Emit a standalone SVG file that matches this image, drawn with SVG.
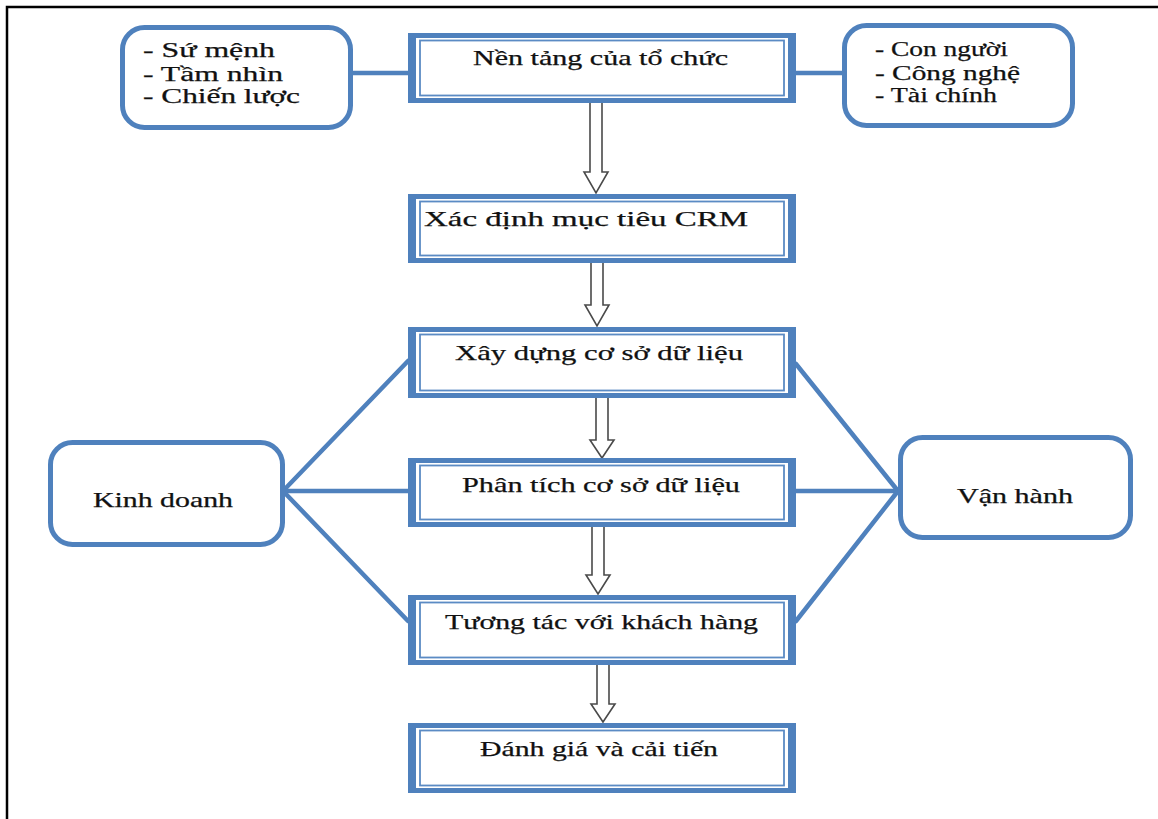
<svg xmlns="http://www.w3.org/2000/svg" width="1158" height="819" viewBox="0 0 1158 819">
<style>
.frame{stroke:#000;stroke-width:2.5;fill:none}
.band{fill:#4F81BD}
.gap{fill:#fff}
.box-inner{fill:none;stroke:#5B8BC4;stroke-width:1.8}
.rbox{fill:#fff;stroke:#4F81BD;stroke-width:5}
.conn{stroke:#4F81BD;stroke-width:4.5;fill:none;stroke-linecap:round}
.arrow{fill:#fff;stroke:#4a4a4a;stroke-width:1.6;stroke-linejoin:miter}
text{font-family:"Liberation Serif","Times New Roman",serif;fill:#111;stroke:#111;stroke-width:0.25}
.t{font-size:21px}
.s{font-size:20px}
</style>
<rect width="1158" height="819" fill="#fff"/>
<path class="frame" d="M7,819 V7 H1158"/>

<g id="connectors">
<line class="conn" x1="353" y1="73" x2="408" y2="73"/>
<line class="conn" x1="796" y1="73" x2="842" y2="73"/>
<line class="conn" x1="283" y1="491" x2="408" y2="361"/>
<line class="conn" x1="283" y1="491" x2="408" y2="491"/>
<line class="conn" x1="283" y1="491" x2="408" y2="621"/>
<line class="conn" x1="898" y1="491" x2="796" y2="364"/>
<line class="conn" x1="796" y1="491" x2="898" y2="491"/>
<line class="conn" x1="898" y1="491" x2="796" y2="621"/>
<path class="arrow" d="M590,100 H602 V172 H608 L596,193 L584,172 H590 Z"/>
<path class="arrow" d="M591,260 H603 V305 H609 L597,326 L585,305 H591 Z"/>
<path class="arrow" d="M596,395 H608 V440 H614 L602,458 L590,440 H596 Z"/>
<path class="arrow" d="M592,524 H604 V575 H610 L598,594 L586,575 H592 Z"/>
<path class="arrow" d="M597,662 H609 V704 H615 L603,722 L591,704 H597 Z"/>
</g>

<g id="node-su-menh">
<rect class="rbox" x="122.5" y="27.5" width="228" height="100" rx="22"/>
<text class="s" x="143" y="57" textLength="132" lengthAdjust="spacingAndGlyphs">- Sứ mệnh</text>
<text class="s" x="143" y="81" textLength="140" lengthAdjust="spacingAndGlyphs">- Tầm nhìn</text>
<text class="s" x="143" y="103" textLength="157" lengthAdjust="spacingAndGlyphs">- Chiến lược</text>
</g>

<g id="node-con-nguoi">
<rect class="rbox" x="844.5" y="25.5" width="228" height="100" rx="22"/>
<text class="s" x="875" y="56" textLength="133" lengthAdjust="spacingAndGlyphs">- Con người</text>
<text class="s" x="875" y="80" textLength="145" lengthAdjust="spacingAndGlyphs">- Công nghệ</text>
<text class="s" x="875" y="102" textLength="122" lengthAdjust="spacingAndGlyphs">- Tài chính</text>
</g>

<g id="node-nen-tang">
<rect class="band" x="408" y="33" width="388" height="70"/>
<rect class="gap" x="416" y="38" width="372" height="60"/>
<rect class="box-inner" x="420" y="40.5" width="364" height="55"/>
<text class="t" x="473" y="65" textLength="255" lengthAdjust="spacingAndGlyphs">Nền tảng của tổ chức</text>
</g>

<g id="node-xac-dinh">
<rect class="band" x="408" y="194" width="388" height="69"/>
<rect class="gap" x="416" y="199" width="372" height="59"/>
<rect class="box-inner" x="420" y="201.5" width="364" height="54"/>
<text class="t" x="424" y="226" textLength="324" lengthAdjust="spacingAndGlyphs">Xác định mục tiêu CRM</text>
</g>

<g id="node-xay-dung">
<rect class="band" x="408" y="327" width="388" height="71"/>
<rect class="gap" x="416" y="332" width="372" height="61"/>
<rect class="box-inner" x="420" y="334.5" width="364" height="56"/>
<text class="t" x="455" y="360" textLength="288" lengthAdjust="spacingAndGlyphs">Xây dựng cơ sở dữ liệu</text>
</g>

<g id="node-phan-tich">
<rect class="band" x="408" y="458" width="388" height="69"/>
<rect class="gap" x="416" y="463" width="372" height="59"/>
<rect class="box-inner" x="420" y="465.5" width="364" height="54"/>
<text class="t" x="462" y="492" textLength="278" lengthAdjust="spacingAndGlyphs">Phân tích cơ sở dữ liệu</text>
</g>

<g id="node-tuong-tac">
<rect class="band" x="408" y="595" width="388" height="70"/>
<rect class="gap" x="416" y="600" width="372" height="60"/>
<rect class="box-inner" x="420" y="602.5" width="364" height="55"/>
<text class="t" x="445" y="629" textLength="313" lengthAdjust="spacingAndGlyphs">Tương tác với khách hàng</text>
</g>

<g id="node-danh-gia">
<rect class="band" x="408" y="723" width="388" height="70"/>
<rect class="gap" x="416" y="728" width="372" height="60"/>
<rect class="box-inner" x="420" y="730.5" width="364" height="55"/>
<text class="t" x="480" y="756" textLength="238" lengthAdjust="spacingAndGlyphs">Đánh giá và cải tiến</text>
</g>

<g id="node-kinh-doanh">
<rect class="rbox" x="50.5" y="442.5" width="232" height="102" rx="22"/>
<text class="t" x="93" y="507" textLength="140" lengthAdjust="spacingAndGlyphs">Kinh doanh</text>
</g>

<g id="node-van-hanh">
<rect class="rbox" x="900.5" y="437.5" width="230" height="100" rx="22"/>
<text class="t" x="957" y="503" textLength="116" lengthAdjust="spacingAndGlyphs">Vận hành</text>
</g>
</svg>
